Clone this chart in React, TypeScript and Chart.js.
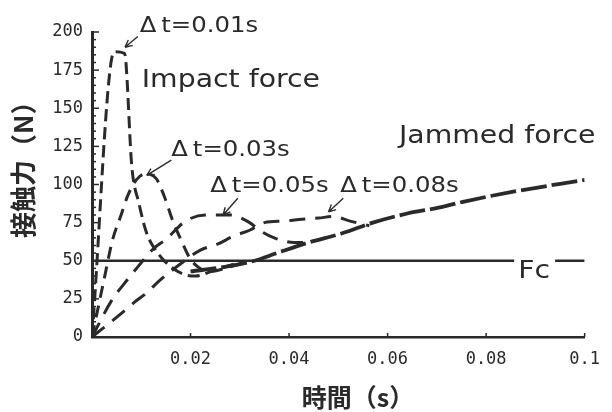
import { useEffect, useRef } from 'react';
import { Chart, registerables } from 'chart.js';

Chart.register(...registerables);

// ---- data (time in s, force in N) ----
const DT001_T = [0, 0.0045, 0.0066, 0.0081, 0.0095, 0.0111, 0.0125, 0.0141, 0.016, 0.0187, 0.021, 0.025, 0.03];
const DT001_F = [0, 187, 186, 111, 88, 68, 59, 52, 46, 41, 40, 44, 49];

const DT003_T = [0, 0.0024, 0.0042, 0.0058, 0.0073, 0.009, 0.0108, 0.013, 0.0147, 0.0163, 0.0183, 0.0198, 0.0215, 0.024, 0.028, 0.032];
const DT003_F = [0, 37, 64, 79, 93, 103, 107, 104, 92, 77, 62, 52, 46, 43, 46, 50];

const DT005_T = [0, 0.004, 0.0063, 0.0093, 0.0125, 0.015, 0.019, 0.023, 0.028, 0.032, 0.034, 0.037, 0.041, 0.044];
const DT005_F = [0, 24, 34, 46, 58, 64, 76, 80, 80, 75, 70, 65, 62, 62];

const DT008_T = [0, 0.0054, 0.0087, 0.0111, 0.0137, 0.018, 0.022, 0.0256, 0.0286, 0.032, 0.035, 0.039, 0.042, 0.046, 0.049, 0.0524, 0.0563];
const DT008_F = [0, 14, 23, 29, 37, 48, 57, 61, 66, 70, 75, 76, 77, 78, 79, 76, 73];

const JAM_T = [0.02, 0.027, 0.033, 0.0375, 0.044, 0.0508, 0.057, 0.064, 0.0706, 0.0758, 0.085, 0.1];
const JAM_F = [43, 46, 50, 55, 62, 68, 75, 81, 85, 89, 95, 103];

const FC_T = [0, 0.0857, 0.09, 0.094, 0.1];
const FC_F: (number | null)[] = [50, 50, null, 50, 50];

// axis
const X_MIN = 0, X_MAX = 0.1, X_STEP = 0.02;
const Y_MIN = 0, Y_MAX = 200, Y_STEP = 25, Y_MINOR = 5;
const X_TITLE = '時間（s）';
const Y_TITLE = '接触力（N）';

// annotations (data coordinates)
const ANN_TEXT = ['Δ\u2009t=0.01s', 'Impact force', 'Δ\u2009t=0.03s', 'Δ\u2009t=0.05s', 'Δ\u2009t=0.08s', 'Jammed force', 'Fc'];
const ANN_X = [0.0097, 0.0101, 0.0161, 0.024, 0.0504, 0.0623, 0.0865];
const ANN_Y = [200, 164, 119, 95, 95, 127, 39];
const ANN_SIZE = [21, 24, 21, 21, 21, 24, 24];
const ANN_STRETCH = [1.16, 1.18, 1.16, 1.16, 1.16, 1.18, 1.18];

const ARR_FROM_X = [0.0093, 0.0161, 0.0296, 0.051];
const ARR_FROM_Y = [197, 116, 91, 91];
const ARR_TO_X = [0.0067, 0.0111, 0.0266, 0.048];
const ARR_TO_Y = [190, 106, 80, 82];

const INK = '#2a2a2a';

const pts = (t: number[], f: (number | null)[]) => t.map((x, i) => ({ x, y: f[i] }));

const decorPlugin = {
  id: 'decor',
  afterDatasetsDraw(chart: any) {
    const { ctx, chartArea: ca, scales } = chart;
    const xs = scales.x, ys = scales.y;
    ctx.save();
    ctx.strokeStyle = INK;
    ctx.fillStyle = INK;
    // inner ticks on y
    ctx.lineWidth = 1.5;
    for (let v = Y_MIN; v <= Y_MAX; v += Y_MINOR) {
      const py = ys.getPixelForValue(v);
      const len = v % Y_STEP === 0 ? 7 : 4;
      ctx.beginPath();
      ctx.moveTo(ca.left, py);
      ctx.lineTo(ca.left + len, py);
      ctx.stroke();
    }
    // inner ticks on x
    for (let v = X_STEP; v <= X_MAX + 1e-9; v += X_STEP) {
      const px = xs.getPixelForValue(v);
      ctx.beginPath();
      ctx.moveTo(px, ca.bottom);
      ctx.lineTo(px, ca.bottom - 4);
      ctx.stroke();
    }
    // annotation texts
    ctx.textAlign = 'left';
    ctx.textBaseline = 'alphabetic';
    ANN_TEXT.forEach((txt, i) => {
      const px = xs.getPixelForValue(ANN_X[i]);
      const py = ys.getPixelForValue(ANN_Y[i]);
      ctx.save();
      ctx.translate(px, py);
      ctx.scale(ANN_STRETCH[i], 1);
      ctx.font = `${ANN_SIZE[i]}px "DejaVu Sans"`;
      ctx.fillText(txt, 0, 0);
      ctx.restore();
    });
    // arrows
    ctx.lineWidth = 1.4;
    ARR_FROM_X.forEach((fx, i) => {
      const x1 = xs.getPixelForValue(fx), y1 = ys.getPixelForValue(ARR_FROM_Y[i]);
      const x2 = xs.getPixelForValue(ARR_TO_X[i]), y2 = ys.getPixelForValue(ARR_TO_Y[i]);
      const a = Math.atan2(y2 - y1, x2 - x1);
      ctx.beginPath();
      ctx.moveTo(x1, y1);
      ctx.lineTo(x2, y2);
      const h = 8;
      ctx.moveTo(x2, y2);
      ctx.lineTo(x2 - h * Math.cos(a - 0.45), y2 - h * Math.sin(a - 0.45));
      ctx.moveTo(x2, y2);
      ctx.lineTo(x2 - h * Math.cos(a + 0.45), y2 - h * Math.sin(a + 0.45));
      ctx.stroke();
    });
    // axis titles
    ctx.textAlign = 'center';
    ctx.textBaseline = 'middle';
    ctx.font = 'bold 26px "Noto Sans CJK JP"';
    ctx.save();
    ctx.translate(23, ca.top + (ca.bottom - ca.top) * 0.43);
    ctx.rotate(-Math.PI / 2);
    ctx.fillText(Y_TITLE, 0, 0);
    ctx.restore();
    ctx.font = 'bold 25px "Noto Sans CJK JP"';
    ctx.fillText(X_TITLE, ca.left + (ca.right - ca.left) * 0.54, 397);
    ctx.restore();
  },
};

export default function App() {
  const ref = useRef<HTMLCanvasElement | null>(null);
  useEffect(() => {
    if (!ref.current) return;
    const curve = (t: number[], f: (number | null)[], dash: number[], w: number) => ({
      data: pts(t, f),
      borderColor: INK,
      borderWidth: w,
      borderDash: dash,
      pointRadius: 0,
      fill: false,
      cubicInterpolationMode: 'monotone' as const,
    });
    const chart = new Chart(ref.current, {
      type: 'line',
      data: {
        datasets: [
          { ...curve(FC_T, FC_F, [], 2.5), cubicInterpolationMode: 'default', tension: 0, spanGaps: false },
          curve(JAM_T, JAM_F, [26, 5], 3.8),
          curve(DT001_T, DT001_F, [12, 6], 3),
          curve(DT003_T, DT003_F, [12, 8], 3),
          curve(DT005_T, DT005_F, [16, 10], 3),
          curve(DT008_T, DT008_F, [16, 10], 3),
        ],
      },
      options: {
        responsive: false,
        animation: false,
        layout: { padding: { left: 0, top: 32, right: 17, bottom: 0 } },
        plugins: { legend: { display: false }, tooltip: { enabled: false }, title: { display: false } },
        scales: {
          x: {
            type: 'linear',
            min: X_MIN,
            max: X_MAX,
            grid: { display: false, drawTicks: false },
            border: { display: true, color: INK, width: 2.5 },
            afterFit: (s: any) => { s.height = 75; },
            ticks: {
              stepSize: X_STEP,
              padding: 12,
              color: INK,
              font: { family: '"DejaVu Sans Mono"', size: 17 },
              callback: (v: any) => {
                const n = Number(v);
                if (Math.abs(n) < 1e-9) return '';
                let s = n.toFixed(2);
                if (s.endsWith('0')) s = s.slice(0, -1);
                return s;
              },
            },
          },
          y: {
            min: Y_MIN,
            max: Y_MAX,
            grid: { display: false, drawTicks: false },
            border: { display: true, color: INK, width: 3 },
            afterFit: (s: any) => { s.width = 92; },
            ticks: {
              stepSize: Y_STEP,
              padding: 9,
              color: INK,
              font: { family: '"DejaVu Sans Mono"', size: 17 },
            },
          },
        },
      },
      plugins: [decorPlugin],
    });
    return () => chart.destroy();
  }, []);
  return (
    <div style={{ position: 'absolute', left: 0, top: 0, width: 612, height: 412, background: '#fff' }}>
      <canvas ref={ref} width={612} height={412} />
    </div>
  );
}
